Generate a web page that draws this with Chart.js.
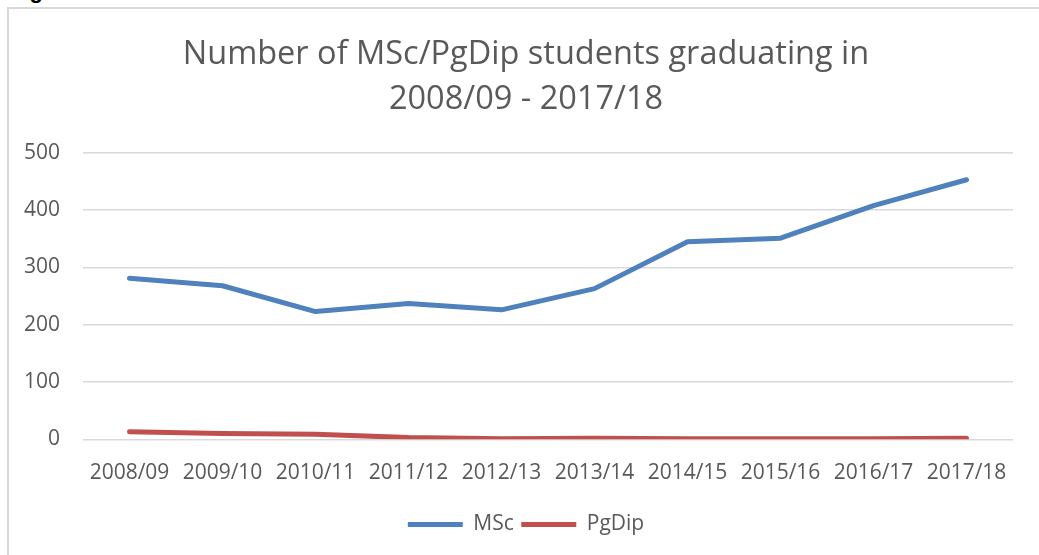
<!DOCTYPE html>
<html lang="en">

<head>
  <meta charset="UTF-8">
  <title>Graduates</title>
  <script src="https://cdn.jsdelivr.net/npm/chart.js"></script>
  <style>
    body {
      margin: 0;
      background: #ffffff;
      font-family: "Open Sans", sans-serif;
    }

    .moldura {
      position: absolute;
      left: 7px;
      top: 7px;
      width: 1040px;
      height: 560px;
      border-left: 2px solid #d9d9d9;
      border-top: 2px solid #d9d9d9;
    }

    .legenda-fig {
      position: absolute;
      left: 10px;
      top: -22px;
      font: bold 22px "Liberation Sans", sans-serif;
      color: #000;
    }

    .chart {
      position: absolute;
      left: 0;
      top: 0;
      width: 1039px;
      height: 555px;
    }
  </style>
</head>

<body>
  <div class="legenda-fig">Figure 33</div>
  <div class="moldura"></div>
  <div class="chart">
    <canvas id="chartGraduados"></canvas>
  </div>

  <script>
    // dados
    var anos = ["2008/09", "2009/10", "2010/11", "2011/12", "2012/13", "2013/14", "2014/15", "2015/16", "2016/17", "2017/18"];
    var msc = [281, 268, 223, 237, 226, 263, 345, 351, 408, 453];
    var pgdip = [13, 10, 9, 3, 1, 2, 1, 1, 1, 2];
    var ticksY = [0, 100, 200, 300, 400, 500];

    var cinza = "#595959";

    var canva = document.getElementById("chartGraduados");
    var grafico = new Chart(canva, {
      type: 'line',
      data: {
        labels: anos,
        datasets: [{
          label: 'MSc',
          data: msc,
          borderColor: '#4f81bd',
          backgroundColor: '#4f81bd',
          borderWidth: 5,
          borderCapStyle: 'round',
          borderJoinStyle: 'round',
          pointRadius: 0,
          tension: 0
        }, {
          label: 'PgDip',
          data: pgdip,
          borderColor: '#c0504d',
          backgroundColor: '#c0504d',
          borderWidth: 5,
          borderCapStyle: 'round',
          borderJoinStyle: 'round',
          pointRadius: 0,
          tension: 0
        }]
      },
      options: {
        responsive: true,
        maintainAspectRatio: false,
        animation: false,
        layout: {
          padding: { left: 13, right: 0, top: 0, bottom: 10 }
        },
        plugins: {
          title: {
            display: true,
            text: ['Number of MSc/PgDip students graduating in', '2008/09 - 2017/18'],
            color: cinza,
            font: { family: 'Open Sans', size: 32.5, weight: 'normal', lineHeight: 1.39 },
            padding: { top: 32, bottom: 30.5 }
          },
          legend: {
            position: 'bottom',
            labels: {
              color: cinza,
              font: { family: 'Open Sans', size: 21 },
              usePointStyle: true,
              pointStyle: 'line',
              pointStyleWidth: 55,
              padding: 7.5
            }
          },
          tooltip: { enabled: false }
        },
        scales: {
          x: {
            offset: true,
            grid: { display: false, drawTicks: false },
            border: { display: false },
            ticks: {
              color: cinza,
              font: { family: 'Open Sans', size: 21 },
              padding: 21,
              maxRotation: 0,
              autoSkip: false
            }
          },
          y: {
            min: 0,
            max: 500,
            afterBuildTicks: function (escala) {
              escala.ticks = ticksY.map(function (v) { return { value: v }; });
            },
            afterFit: function (escala) {
              escala.width = 70;
            },
            grid: { color: '#d9d9d9', lineWidth: 1.5, drawTicks: false },
            border: { display: false },
            ticks: {
              color: cinza,
              font: { family: 'Open Sans', size: 21 },
              padding: 23
            }
          },
          // eixo vazio só para dar a margem da direita
          margem: {
            position: 'right',
            display: true,
            grid: { display: false, drawTicks: false },
            border: { display: false },
            ticks: { display: false },
            afterFit: function (escala) {
              escala.width = 26;
            }
          }
        }
      }
    });
  </script>
</body>

</html>
